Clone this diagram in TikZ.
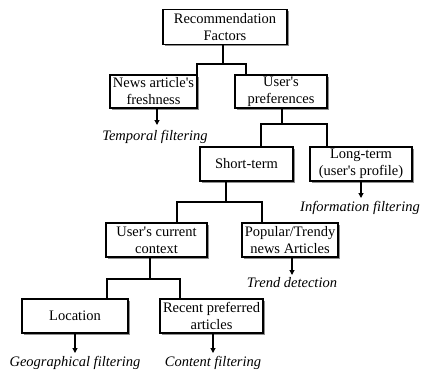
\documentclass[tikz,border=0pt]{standalone}
\usepackage{fontspec}
\setmainfont{Liberation Serif}
\usetikzlibrary{shadows,arrows.meta}
\newcommand{\ap}{\textquotesingle}
\begin{document}
\begin{tikzpicture}[x=1pt,y=-1pt,
  box/.style={draw, line width=1.3pt, fill=white, align=center, inner sep=0pt,
    font=\fontsize{14.5}{17}\selectfont,
    drop shadow={shadow xshift=1.6pt, shadow yshift=-1.6pt, fill=black!55, opacity=0.8}},
  lbl/.style={font=\fontsize{14.5}{17}\selectfont\itshape, inner sep=0pt},
  conn/.style={line width=1.1pt},
  arr/.style={line width=1.1pt, -{Triangle[length=5pt,width=5pt]}}]
\useasboundingbox (0,0) rectangle (422,375);
% boxes
\node[box, minimum width=124pt, minimum height=35pt] (rec) at (225,27) {Recommendation\\Factors};
\node[box, minimum width=87pt, minimum height=33pt] (news) at (153.5,91.5) {News article\ap s\\freshness};
\node[box, minimum width=92pt, minimum height=33pt] (pref) at (281,91.5) {User\ap s\\preferences};
\node[box, minimum width=93pt, minimum height=34pt] (short) at (246.5,164) {Short-term};
\node[box, minimum width=102pt, minimum height=34pt] (long) at (361,164) {Long-term\\(user\ap s profile)};
\node[box, minimum width=101pt, minimum height=34pt] (ctx) at (156.5,240) {User\ap s current\\context};
\node[box, minimum width=96pt, minimum height=34pt] (pop) at (290,240) {Popular/Trendy\\news Articles};
\node[box, minimum width=106pt, minimum height=34pt] (loc) at (75,316) {Location};
\node[box, minimum width=103pt, minimum height=34pt] (recent) at (211.5,316) {Recent preferred\\articles};
% labels
\node[lbl] (temporal) at (155,137) {Temporal filtering};
\node[lbl] (info) at (360,208) {Information filtering};
\node[lbl] (trend) at (292,283) {Trend detection};
\node[lbl] (geo) at (75,363) {Geographical filtering};
\node[lbl] (content) at (213,363) {Content filtering};
% junctions
\coordinate (s1) at (223,64); \coordinate (l1) at (197,64); \coordinate (r1) at (246,64);
\coordinate (s2) at (282,124); \coordinate (l2) at (261,124); \coordinate (r2) at (327,124);
\coordinate (s3) at (226,202); \coordinate (l3) at (177,202); \coordinate (r3) at (262,202);
\coordinate (s4) at (150,279); \coordinate (l4) at (107,279); \coordinate (r4) at (180,279);
% tree connectors
\draw[conn] (rec.south -| s1) -- (s1);
\draw[conn] (news.north -| l1) -- (l1) -- (r1) -- (pref.north -| r1);
\draw[conn] (pref.south -| s2) -- (s2);
\draw[conn] (short.north -| l2) -- (l2) -- (r2) -- (long.north -| r2);
\draw[conn] (short.south -| s3) -- (s3);
\draw[conn] (ctx.north -| l3) -- (l3) -- (r3) -- (pop.north -| r3);
\draw[conn] (ctx.south -| s4) -- (s4);
\draw[conn] (loc.north -| l4) -- (l4) -- (r4) -- (recent.north -| r4);
% arrows
\coordinate (a1) at (157,125);
\coordinate (a2) at (361,198);
\coordinate (a3) at (292,275);
\coordinate (a4) at (75,353);
\coordinate (a5) at (213,353);
\draw[arr] (news.south -| a1) -- (a1);
\draw[arr] (long.south -| a2) -- (a2);
\draw[arr] (pop.south -| a3) -- (a3);
\draw[arr] (loc.south -| a4) -- (a4);
\draw[arr] (recent.south -| a5) -- (a5);
\end{tikzpicture}
\end{document}
